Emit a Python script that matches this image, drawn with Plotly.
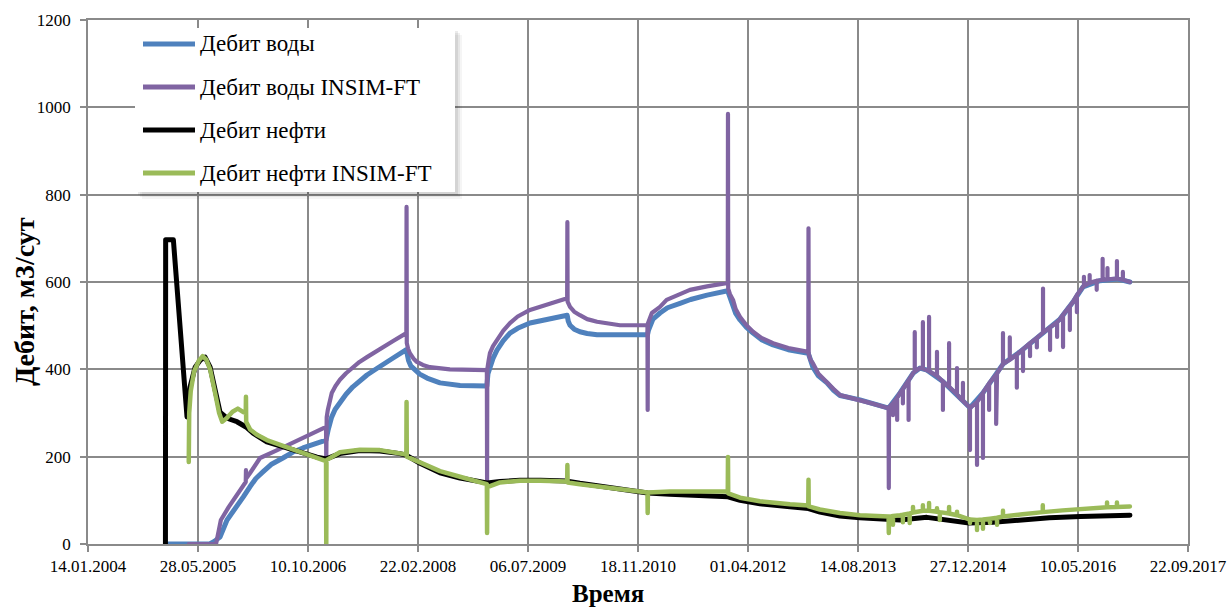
import pandas as pd
import plotly.graph_objects as go

# ---- Series data (date, rate m3/day) ----
water_dates = [
    "2005-01-01", "2005-07-20", "2005-08-10", "2005-09-05", "2005-10-07", "2005-11-01",
    "2005-11-21", "2005-12-20", "2006-01-19", "2006-02-15", "2006-03-19", "2006-04-25",
    "2006-06-18", "2006-08-01", "2006-09-17", "2006-11-01", "2006-12-17", "2006-12-31",
    "2007-01-10", "2007-01-25", "2007-02-10", "2007-03-04", "2007-04-01", "2007-05-02",
    "2007-06-01", "2007-07-05", "2007-08-10", "2007-09-16", "2007-11-01", "2007-12-31",
    "2008-01-05", "2008-01-10", "2008-01-20", "2008-02-08", "2008-03-01", "2008-04-03",
    "2008-06-01", "2008-08-31", "2008-12-31",
    "2009-01-05", "2009-01-14", "2009-01-28", "2009-02-15", "2009-03-15", "2009-04-15",
    "2009-05-20", "2009-07-15", "2009-10-14", "2009-12-31",
    "2010-01-05", "2010-01-13", "2010-02-01", "2010-02-27", "2010-04-01", "2010-05-16",
    "2010-08-28", "2010-12-31",
    "2011-01-05", "2011-01-11", "2011-01-25", "2011-02-26", "2011-04-01", "2011-05-28",
    "2011-07-15", "2011-09-28", "2011-12-31",
    "2012-01-05", "2012-01-10", "2012-01-24", "2012-02-05", "2012-02-25", "2012-03-25",
    "2012-04-24", "2012-06-01", "2012-07-24", "2012-10-01", "2012-12-31",
    "2013-01-10", "2013-01-21", "2013-02-15", "2013-03-26", "2013-04-25", "2013-05-24",
    "2013-08-23", "2013-10-15", "2013-12-31",
    "2014-02-21", "2014-04-21", "2014-05-23", "2014-06-24", "2014-09-04", "2014-11-21",
    "2015-01-05", "2015-03-05", "2015-05-08", "2015-06-04", "2015-08-20", "2015-11-19",
    "2016-02-18", "2016-04-17", "2016-06-02", "2016-08-18", "2016-11-03", "2017-01-01",
]
water_rate = [
    0, 0, 6, 16, 55, 72,
    85, 108, 131, 150, 165, 182,
    197, 210, 220, 228, 234, 238,
    262, 290, 308, 325, 343, 360,
    374, 387, 399, 410, 426, 445,
    430, 420, 408, 398, 389, 380,
    369, 363, 362,
    390, 405, 425, 444, 465, 483,
    494, 506, 517, 524,
    510, 501, 492, 486, 482, 479,
    479, 479,
    490, 497, 515, 529, 541, 551,
    560, 570, 580,
    572, 565, 543, 528, 513, 496,
    483, 468, 456, 445, 437,
    418, 405, 385, 369, 352, 340,
    330, 322, 311,
    346, 391, 403, 398, 372, 334,
    312, 346, 391, 412, 440, 478,
    515, 554, 589, 603, 607, 600,
]

water_sim_dates = [
    "2005-04-16", "2005-08-18", "2005-08-30", "2005-09-09", "2005-10-15", "2005-11-30",
    "2005-12-31", "2006-01-01", "2006-01-02", "2006-01-19", "2006-03-06", "2006-05-23",
    "2006-08-23", "2006-12-17", "2006-12-31", "2007-01-01", "2007-01-03", "2007-01-08",
    "2007-01-26", "2007-02-12", "2007-03-04", "2007-04-01", "2007-05-02", "2007-06-01",
    "2007-07-05", "2007-08-10", "2007-09-16", "2007-11-01", "2007-12-31",
    "2008-01-01", "2008-01-02", "2008-01-08", "2008-01-16", "2008-02-01", "2008-02-17",
    "2008-03-15", "2008-04-16", "2008-07-16", "2008-12-31",
    "2009-01-01", "2009-01-02", "2009-01-08", "2009-01-14", "2009-01-28", "2009-02-15",
    "2009-03-15", "2009-04-15", "2009-05-20", "2009-07-15", "2009-10-14", "2009-12-31",
    "2010-01-01", "2010-01-02", "2010-01-13", "2010-02-01", "2010-02-27", "2010-04-01",
    "2010-05-16", "2010-08-28", "2010-12-31",
    "2011-01-01", "2011-01-02", "2011-01-20", "2011-02-26", "2011-03-28", "2011-05-15",
    "2011-07-12", "2011-09-28", "2011-12-31",
    "2012-01-01", "2012-01-02", "2012-01-10", "2012-01-24", "2012-02-05", "2012-02-25",
    "2012-03-25", "2012-04-24", "2012-06-01", "2012-07-24", "2012-10-01", "2012-12-31",
    "2013-01-01", "2013-01-02", "2013-01-10", "2013-01-21", "2013-02-15", "2013-03-26",
    "2013-04-25", "2013-05-24", "2013-08-23", "2013-10-15", "2013-12-31",
    "2014-01-01", "2014-01-02",
    "2014-01-20", "2014-01-20", "2014-01-20",
    "2014-02-08", "2014-02-08", "2014-02-08",
    "2014-02-21",
    "2014-03-06", "2014-03-06", "2014-03-06",
    "2014-04-01", "2014-04-01", "2014-04-01",
    "2014-04-21",
    "2014-04-29", "2014-04-29", "2014-04-29",
    "2014-05-23",
    "2014-06-05", "2014-06-05", "2014-06-05",
    "2014-06-24",
    "2014-07-03", "2014-07-03", "2014-07-03",
    "2014-08-08", "2014-08-08", "2014-08-08",
    "2014-09-04", "2014-09-04", "2014-09-04",
    "2014-10-02", "2014-10-02", "2014-10-02",
    "2014-11-07", "2014-11-07", "2014-11-07",
    "2014-11-21",
    "2014-12-04", "2014-12-04", "2014-12-04",
    "2015-01-05", "2015-01-05", "2015-01-05",
    "2015-02-06", "2015-02-06", "2015-02-06",
    "2015-03-05", "2015-03-05", "2015-03-05",
    "2015-04-02", "2015-04-02", "2015-04-02",
    "2015-05-04", "2015-05-04", "2015-05-04",
    "2015-05-08",
    "2015-06-04", "2015-06-04", "2015-06-04",
    "2015-07-05", "2015-07-05", "2015-07-05",
    "2015-08-06", "2015-08-06", "2015-08-06",
    "2015-08-20",
    "2015-09-03", "2015-09-03", "2015-09-03",
    "2015-10-05", "2015-10-05", "2015-10-05",
    "2015-11-05", "2015-11-05", "2015-11-05",
    "2015-11-19",
    "2015-12-03", "2015-12-03", "2015-12-03",
    "2016-01-04", "2016-01-04", "2016-01-04",
    "2016-02-05", "2016-02-05", "2016-02-05",
    "2016-02-18",
    "2016-03-03", "2016-03-03", "2016-03-03",
    "2016-04-03", "2016-04-03", "2016-04-03",
    "2016-04-17",
    "2016-05-05", "2016-05-05", "2016-05-05",
    "2016-06-02",
    "2016-06-06", "2016-06-06", "2016-06-06",
    "2016-07-02", "2016-07-02", "2016-07-02",
    "2016-08-03", "2016-08-03", "2016-08-03",
    "2016-08-18",
    "2016-08-30", "2016-08-30", "2016-08-30",
    "2016-09-21", "2016-09-21", "2016-09-21",
    "2016-11-03", "2016-11-03", "2016-11-03",
    "2016-11-30", "2016-11-30", "2016-11-30",
    "2017-01-01",
]
water_sim_rate = [
    0, 0, 30, 55, 85, 117,
    142, 169, 150, 162, 197, 215,
    238, 265, 267, 192, 290, 307,
    346, 362, 376, 391, 405, 417,
    428, 440, 451, 465, 483,
    772, 460, 447, 437, 425, 417,
    410, 405, 400, 398,
    147, 400, 420, 437, 453, 467,
    488, 506, 521, 536, 551, 563,
    737, 555, 543, 532, 524, 515,
    509, 501, 501,
    307, 505, 529, 543, 559, 570,
    582, 590, 598,
    985, 585, 572, 559, 538, 520,
    501, 486, 472, 460, 449, 440,
    723, 435, 422, 414, 390, 372,
    355, 341, 330, 322, 311,
    128, 313,
    322, 295, 322,
    335, 284, 335,
    346,
    355, 322, 355,
    375, 284, 375,
    391,
    395, 485, 395,
    403,
    402, 508, 402,
    398,
    396, 520, 396,
    385, 440, 385,
    372, 307, 372,
    360, 460, 360,
    343, 403, 343,
    334,
    328, 369, 328,
    312, 215, 312,
    325, 181, 325,
    346, 197, 346,
    368, 307, 368,
    388, 275, 388,
    391,
    412, 483, 412,
    422, 473, 422,
    434, 358, 434,
    440,
    446, 396, 446,
    460, 430, 460,
    472, 450, 472,
    478,
    484, 585, 484,
    496, 444, 496,
    508, 474, 508,
    515,
    525, 451, 525,
    545, 490, 545,
    554,
    570, 531, 570,
    589,
    591, 612, 591,
    598, 616, 598,
    603, 582, 603,
    604,
    605, 653, 605,
    606, 632, 606,
    608, 648, 608,
    605, 623, 605,
    600,
]

oil_dates = [
    "2004-12-31", "2005-01-01", "2005-02-05", "2005-02-21", "2005-03-07", "2005-03-21",
    "2005-04-08", "2005-04-22", "2005-05-15", "2005-06-07", "2005-06-29", "2005-07-22",
    "2005-08-14", "2005-09-05", "2005-10-07", "2005-11-21", "2006-01-01", "2006-02-02",
    "2006-04-06", "2006-06-18", "2006-09-03", "2006-11-20", "2007-01-01", "2007-03-04",
    "2007-06-03", "2007-09-02", "2007-12-02", "2008-01-01", "2008-03-02", "2008-06-01",
    "2008-08-31", "2009-01-01", "2009-03-01", "2009-05-30", "2009-09-01", "2010-01-01",
    "2010-02-27", "2010-05-28", "2010-08-28", "2011-01-01", "2011-04-12", "2011-08-27",
    "2012-01-01", "2012-02-25", "2012-05-25", "2012-10-09", "2013-01-01", "2013-02-22",
    "2013-05-24", "2013-08-23", "2014-01-01", "2014-02-21", "2014-06-23", "2014-10-06",
    "2015-01-01", "2015-04-20", "2015-08-21", "2016-01-01", "2016-05-21", "2016-10-04",
    "2017-01-01",
]
oil_rate = [
    0, 697, 697, 589, 490, 398,
    291, 360, 405, 421, 428, 405,
    346, 302, 288, 280, 268, 254,
    234, 222, 211, 199, 195, 207,
    214, 213, 207, 203, 185, 163,
    151, 140, 143, 146, 146, 144,
    139, 132, 125, 117, 114, 111,
    108, 100, 92, 85, 81, 73,
    64, 60, 56, 55, 61, 55,
    48, 50, 56, 60, 63, 65,
    66,
]

oil_sim_dates = [
    "2005-04-16", "2005-04-18", "2005-04-25", "2005-05-10", "2005-06-01", "2005-06-18",
    "2005-07-05", "2005-07-22", "2005-08-14", "2005-09-01", "2005-09-15", "2005-10-05",
    "2005-11-01", "2005-11-25", "2005-12-20", "2005-12-31", "2006-01-01", "2006-01-02",
    "2006-01-20", "2006-02-20", "2006-04-06", "2006-06-18", "2006-09-03", "2006-11-20",
    "2006-12-31", "2007-01-01", "2007-01-02", "2007-03-04", "2007-06-03", "2007-09-02",
    "2007-12-02", "2007-12-31", "2008-01-01", "2008-01-02", "2008-03-02", "2008-06-01",
    "2008-08-31", "2008-12-31", "2009-01-01", "2009-01-02", "2009-03-01", "2009-05-30",
    "2009-09-01", "2009-12-31", "2010-01-01", "2010-01-02", "2010-02-27", "2010-05-28",
    "2010-08-28", "2010-12-31", "2011-01-01", "2011-01-02", "2011-04-12", "2011-08-27",
    "2011-12-31", "2012-01-01", "2012-01-02", "2012-02-25", "2012-05-25", "2012-10-09",
    "2012-12-31", "2013-01-01", "2013-01-02", "2013-02-22", "2013-05-24", "2013-08-23",
    "2013-12-31", "2014-01-01", "2014-01-02",
    "2014-01-20", "2014-01-20", "2014-01-20",
    "2014-02-21",
    "2014-03-06", "2014-03-06", "2014-03-06",
    "2014-04-06", "2014-04-06", "2014-04-06",
    "2014-04-21", "2014-04-21", "2014-04-21",
    "2014-06-05", "2014-06-05", "2014-06-05",
    "2014-07-03", "2014-07-03", "2014-07-03",
    "2014-08-08", "2014-08-08", "2014-08-08",
    "2014-08-21", "2014-08-21", "2014-08-21",
    "2014-10-02", "2014-10-02", "2014-10-02",
    "2014-11-07", "2014-11-07", "2014-11-07",
    "2015-01-05", "2015-01-05", "2015-01-05",
    "2015-02-06", "2015-02-06", "2015-02-06",
    "2015-03-05", "2015-03-05", "2015-03-05",
    "2015-04-06", "2015-04-06", "2015-04-06",
    "2015-05-08", "2015-05-08", "2015-05-08",
    "2015-06-04", "2015-06-04", "2015-06-04",
    "2015-09-01",
    "2015-12-02", "2015-12-02", "2015-12-02",
    "2016-03-01", "2016-06-01",
    "2016-09-19", "2016-09-19", "2016-09-19",
    "2016-11-03", "2016-11-03", "2016-11-03",
    "2017-01-01",
]
oil_sim_rate = [
    188, 300, 350, 395, 420, 430,
    422, 400, 345, 300, 280, 288,
    303, 310, 302, 300, 337, 280,
    262, 250, 238, 225, 212, 199,
    190, 0, 192, 210, 216, 215,
    209, 205, 325, 200, 187, 167,
    154, 137, 25, 130, 141, 145,
    145, 143, 181, 141, 137, 131,
    125, 118, 71, 118, 120, 121,
    120, 199, 116, 106, 98, 91,
    88, 147, 86, 79, 71, 66,
    63, 25, 62,
    64, 44, 64,
    66,
    67, 50, 67,
    70, 48, 70,
    72, 85, 72,
    76, 89, 76,
    76, 94, 76,
    74, 82, 74,
    73, 55, 73,
    70, 85, 70,
    66, 74, 66,
    56, 48, 56,
    55, 32, 55,
    56, 35, 56,
    58, 48, 58,
    60, 44, 60,
    63, 76, 63,
    68,
    73, 89, 73,
    77, 80,
    84, 95, 84,
    85, 95, 85,
    86,
]

series_names = ["Дебит воды", "Дебит воды INSIM-FT", "Дебит нефти", "Дебит нефти INSIM-FT"]
series_colors = ["#4f81bd", "#8064a2", "#000000", "#9bbb59"]
series_widths = [5, 4.2, 5, 4.5]

# Date axis: major unit of 500 days starting at 14.01.2004
axis_start = pd.Timestamp("2004-01-14")
tick_dates = [axis_start + pd.Timedelta(days=500 * k) for k in range(11)]
tick_labels = [d.strftime("%d.%m.%Y") for d in tick_dates]

FONT = "Liberation Serif, Times New Roman, serif"
GRID = "#8a8a8a"
W, H = 1231, 608
ML, MR, MT, MB = 88, 43, 20, 64
PW, PH = W - ML - MR, H - MT - MB


def px_x(px):
    return (px - ML) / PW


def px_y(py):
    return (H - MB - py) / PH


fig = go.Figure()
series = [
    (water_dates, water_rate),
    (water_sim_dates, water_sim_rate),
    (oil_dates, oil_rate),
    (oil_sim_dates, oil_sim_rate),
]
for (d, v), name, col, w in zip(series, series_names, series_colors, series_widths):
    fig.add_trace(go.Scatter(
        x=pd.to_datetime(d), y=v, mode="lines", name=name,
        line=dict(color=col, width=w), showlegend=False,
    ))

# Legend panel with a soft drop shadow
shapes = []
bx0, by0, bx1, by1 = 135, 28, 455, 192
for off, alpha in [(7, 0.04), (5, 0.06), (3, 0.08)]:
    shapes.append(dict(type="rect", xref="paper", yref="paper", layer="above",
                       x0=px_x(bx0 + off), x1=px_x(bx1 + off),
                       y0=px_y(by1 + off), y1=px_y(by0 + off),
                       line=dict(width=0), fillcolor=f"rgba(0,0,0,{alpha})"))
shapes.append(dict(type="rect", xref="paper", yref="paper", layer="above",
                   x0=px_x(bx0), x1=px_x(bx1), y0=px_y(by1), y1=px_y(by0),
                   line=dict(width=0), fillcolor="white"))
annotations = []
row_y = [44, 87, 130, 173]
for ry, name, col in zip(row_y, series_names, series_colors):
    shapes.append(dict(type="line", xref="paper", yref="paper", layer="above",
                       x0=px_x(143), x1=px_x(195), y0=px_y(ry), y1=px_y(ry),
                       line=dict(color=col, width=5)))
    annotations.append(dict(xref="paper", yref="paper", x=px_x(198), y=px_y(ry),
                            xanchor="left", yanchor="middle", showarrow=False,
                            text=name, font=dict(family=FONT, size=23, color="black")))

annotations.append(dict(xref="paper", yref="paper", x=px_x(24), y=px_y(302),
                        textangle=-90, showarrow=False, xanchor="center", yanchor="middle",
                        text="<b>Дебит, м3/сут</b>",
                        font=dict(family=FONT, size=28, color="black")))
annotations.append(dict(xref="paper", yref="paper", x=px_x(608), y=px_y(593),
                        showarrow=False, xanchor="center", yanchor="middle",
                        text="<b>Время</b>",
                        font=dict(family=FONT, size=25, color="black")))

fig.update_layout(
    width=W, height=H,
    margin=dict(l=ML, r=MR, t=MT, b=MB, autoexpand=False),
    paper_bgcolor="white", plot_bgcolor="white",
    shapes=shapes, annotations=annotations,
    font=dict(family=FONT, color="black"),
)
fig.update_xaxes(
    type="date", range=[tick_dates[0], tick_dates[-1]],
    tickmode="array", tickvals=tick_dates, ticktext=tick_labels,
    tickfont=dict(family=FONT, size=17, color="black"),
    showgrid=True, gridcolor=GRID, gridwidth=1.5,
    showline=True, linecolor=GRID, linewidth=1.5, mirror=True,
    ticks="outside", ticklen=6, tickcolor=GRID, tickwidth=1.5,
    zeroline=False, automargin=False,
)
fig.update_yaxes(
    range=[0, 1200], tickmode="linear", tick0=0, dtick=200,
    tickfont=dict(family=FONT, size=17, color="black"),
    showgrid=True, gridcolor=GRID, gridwidth=1.5,
    showline=True, linecolor=GRID, linewidth=1.5, mirror=True,
    ticks="outside", ticklen=6, tickcolor=GRID, tickwidth=1.5,
    zeroline=False, ticklabelstandoff=6, automargin=False,
)

round_joins = (
    "var s=document.createElement('style');"
    "s.innerHTML='.js-line{stroke-linejoin:round !important;stroke-linecap:round !important;}';"
    "document.head.appendChild(s);"
)
fig.write_html("out.html", post_script=round_joins)
